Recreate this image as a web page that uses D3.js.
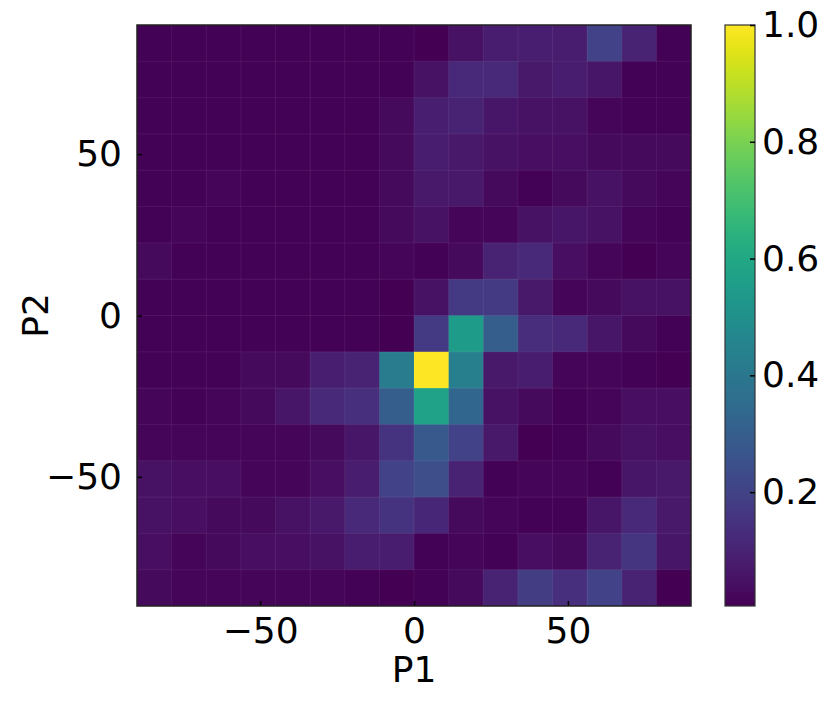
<!DOCTYPE html>
<html>

<head>
  <meta charset="utf-8">
  <title>P1 P2 density</title>
  <script src="https://cdn.jsdelivr.net/npm/d3@7"></script>
  <style>
    body { margin: 0; background: #fff; }
    text { font-family: "DejaVu Sans", sans-serif; }
  </style>
</head>

<body>
  <svg width="830" height="701" id="mainsvg"></svg>
  <script>
      // bins: lower edge of each bin (P1 left to right, P2 top to bottom)
      const binWidth = 11.25;
      const p1Bins = [-90, -78.75, -67.5, -56.25, -45, -33.75, -22.5, -11.25, 0, 11.25, 22.5, 33.75, 45, 56.25, 67.5, 78.75];
      const p2Bins = [78.75, 67.5, 56.25, 45, 33.75, 22.5, 11.25, 0, -11.25, -22.5, -33.75, -45, -56.25, -67.5, -78.75, -90];

      // normalised counts, one row per P2 bin (top row first)
      const density = [
        [0.01, 0.01, 0.01, 0.01, 0.01, 0.01, 0.01, 0.01, 0.005, 0.05, 0.08, 0.09, 0.08, 0.2, 0.1, 0.01],
        [0.01, 0.01, 0.01, 0.01, 0.01, 0.01, 0.01, 0.01, 0.05, 0.12, 0.12, 0.07, 0.08, 0.06, 0.01, 0.01],
        [0.01, 0.01, 0.01, 0.01, 0.01, 0.01, 0.01, 0.03, 0.09, 0.1, 0.06, 0.05, 0.05, 0.02, 0.01, 0.01],
        [0.01, 0.01, 0.01, 0.01, 0.01, 0.01, 0.01, 0.03, 0.08, 0.07, 0.05, 0.04, 0.04, 0.03, 0.03, 0.03],
        [0.01, 0.01, 0.02, 0.01, 0.01, 0.01, 0.01, 0.03, 0.07, 0.07, 0.03, 0.01, 0.03, 0.05, 0.03, 0.02],
        [0.01, 0.02, 0.01, 0.01, 0.01, 0.01, 0.01, 0.03, 0.05, 0.02, 0.02, 0.05, 0.06, 0.05, 0.02, 0.01],
        [0.03, 0.01, 0.01, 0.01, 0.01, 0.01, 0.01, 0.02, 0.01, 0.03, 0.1, 0.12, 0.04, 0.02, 0.005, 0.02],
        [0.01, 0.01, 0.01, 0.01, 0.01, 0.01, 0.01, 0.005, 0.05, 0.17, 0.17, 0.07, 0.02, 0.03, 0.05, 0.05],
        [0.01, 0.01, 0.01, 0.01, 0.01, 0.01, 0.01, 0.005, 0.17, 0.55, 0.3, 0.13, 0.12, 0.06, 0.03, 0.01],
        [0.01, 0.01, 0.01, 0.03, 0.03, 0.09, 0.1, 0.42, 1.0, 0.43, 0.07, 0.08, 0.02, 0.02, 0.01, 0.005],
        [0.02, 0.01, 0.02, 0.03, 0.06, 0.12, 0.14, 0.3, 0.58, 0.33, 0.05, 0.03, 0.01, 0.02, 0.04, 0.04],
        [0.02, 0.02, 0.02, 0.02, 0.02, 0.03, 0.06, 0.15, 0.28, 0.2, 0.07, 0.005, 0.01, 0.03, 0.05, 0.04],
        [0.05, 0.04, 0.04, 0.02, 0.02, 0.04, 0.08, 0.2, 0.24, 0.1, 0.01, 0.02, 0.02, 0.01, 0.06, 0.07],
        [0.05, 0.04, 0.03, 0.03, 0.05, 0.07, 0.12, 0.15, 0.11, 0.03, 0.02, 0.01, 0.01, 0.06, 0.12, 0.07],
        [0.04, 0.02, 0.03, 0.04, 0.04, 0.05, 0.08, 0.08, 0.01, 0.02, 0.01, 0.04, 0.03, 0.1, 0.16, 0.06],
        [0.03, 0.02, 0.02, 0.02, 0.02, 0.02, 0.01, 0.005, 0.01, 0.03, 0.1, 0.18, 0.14, 0.2, 0.1, 0.005]
      ];

      const xTicks = [-50, 0, 50];
      const yTicks = [-50, 0, 50];
      const cbTicks = [0.2, 0.4, 0.6, 0.8, 1.0];
      const vMin = 0.005, vMax = 1.0;

      const svg = d3.select('svg');
      const plot = {left: 137, right: 691, top: 25, bottom: 606};
      const cb = {left: 725, right: 755};
      const fontSize = 36;

      const xScale = d3.scaleLinear().domain([-90, 90]).range([plot.left, plot.right]);
      const yScale = d3.scaleLinear().domain([-90, 90]).range([plot.bottom, plot.top]);
      const color = d3.scaleSequential(d3.interpolateViridis).domain([vMin, vMax]);

      // cells (slightly oversized so neighbours overlap and leave no white seams)
      const cells = [];
      density.forEach((row, i) => row.forEach((v, j) => cells.push({p1: p1Bins[j], p2: p2Bins[i], v: v})));
      const cellGroup = svg.append('g');
      cellGroup.selectAll('rect').data(cells).join('rect')
        .attr('x', d => xScale(d.p1))
        .attr('y', d => yScale(d.p2 + binWidth))
        .attr('width', d => Math.min(xScale(d.p1 + binWidth) + 0.7, plot.right) - xScale(d.p1))
        .attr('height', d => Math.min(yScale(d.p2) + 0.7, plot.bottom) - yScale(d.p2 + binWidth))
        .attr('fill', d => color(d.v));

      // faint seams between cells, like the reference mesh
      cellGroup.selectAll('line.vseam').data(p1Bins.slice(1)).join('line')
        .attr('class', 'vseam')
        .attr('x1', d => xScale(d)).attr('x2', d => xScale(d))
        .attr('y1', plot.top).attr('y2', plot.bottom)
        .attr('stroke', '#fff').attr('stroke-opacity', 0.07).attr('stroke-width', 1);
      cellGroup.selectAll('line.hseam').data(p2Bins.slice(0, -1)).join('line')
        .attr('class', 'hseam')
        .attr('y1', d => yScale(d)).attr('y2', d => yScale(d))
        .attr('x1', plot.left).attr('x2', plot.right)
        .attr('stroke', '#fff').attr('stroke-opacity', 0.07).attr('stroke-width', 1);

      // axes, ticks pointing inwards
      const xAxisGroup = svg.append('g').attr('transform', `translate(0, ${plot.bottom})`)
        .call(d3.axisBottom(xScale).tickValues(xTicks).tickSize(-5).tickPadding(11));
      const yAxisGroup = svg.append('g').attr('transform', `translate(${plot.left}, 0)`)
        .call(d3.axisLeft(yScale).tickValues(yTicks).tickSize(-5).tickPadding(15));
      [xAxisGroup, yAxisGroup].forEach(g => {
        g.select('.domain').remove();
        g.selectAll('.tick line').attr('stroke', '#000').attr('stroke-width', 1.5);
        g.selectAll('.tick text').attr('font-size', fontSize).attr('fill', '#000')
          .style('font-family', '"DejaVu Sans", sans-serif');
      });

      svg.append('rect')
        .attr('x', plot.left).attr('y', plot.top)
        .attr('width', plot.right - plot.left).attr('height', plot.bottom - plot.top)
        .attr('fill', 'none').attr('stroke', '#222').attr('stroke-width', 1.5);

      // axis titles
      svg.append('text').text('P1')
        .attr('x', (plot.left + plot.right) / 2).attr('y', 682)
        .attr('text-anchor', 'middle').attr('font-size', fontSize);
      svg.append('text').text('P2')
        .attr('transform', `translate(48, ${(plot.top + plot.bottom) / 2}) rotate(-90)`)
        .attr('text-anchor', 'middle').attr('font-size', fontSize);

      // colorbar
      const cbScale = d3.scaleLinear().domain([vMin, vMax]).range([plot.bottom, plot.top]);
      const grad = svg.append('defs').append('linearGradient').attr('id', 'cbgrad')
        .attr('x1', 0).attr('y1', 1).attr('x2', 0).attr('y2', 0);
      d3.range(0, 1.0001, 0.02).forEach(t => {
        grad.append('stop').attr('offset', t).attr('stop-color', d3.interpolateViridis(t));
      });
      svg.append('rect')
        .attr('x', cb.left).attr('y', plot.top)
        .attr('width', cb.right - cb.left).attr('height', plot.bottom - plot.top)
        .attr('fill', 'url(#cbgrad)').attr('stroke', '#333').attr('stroke-width', 1.2);

      const cbAxis = svg.append('g').attr('transform', `translate(${cb.right}, 0)`)
        .call(d3.axisRight(cbScale).tickValues(cbTicks).tickSize(-5).tickPadding(7).tickFormat(d3.format('.1f')));
      cbAxis.select('.domain').remove();
      cbAxis.selectAll('.tick line').attr('stroke', '#000').attr('stroke-width', 1.5);
      cbAxis.selectAll('.tick text').attr('font-size', fontSize).attr('fill', '#000')
        .style('font-family', '"DejaVu Sans", sans-serif');
  </script>
</body>

</html>
